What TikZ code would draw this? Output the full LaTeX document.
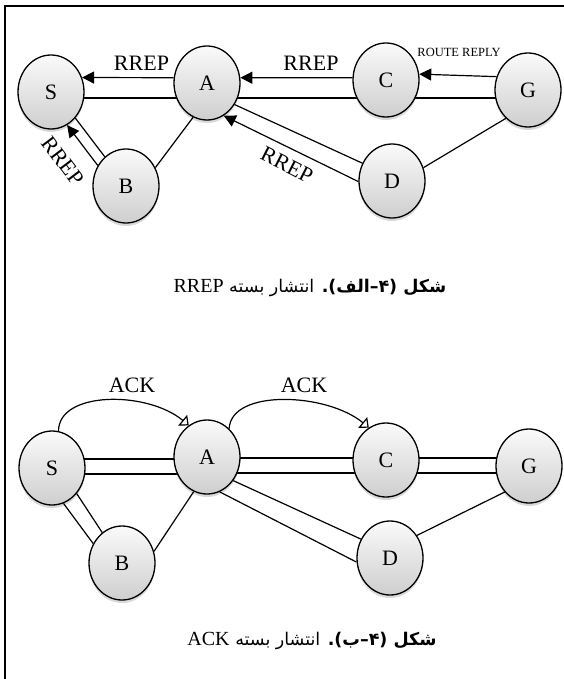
\documentclass[tikz,border=0pt]{standalone}
\usepackage{fontspec}
\setmainfont{Liberation Serif}
\newfontfamily\arabicfont[Script=Arabic]{DejaVu Sans}
\TeXXeTstate=1
\usetikzlibrary{shapes.geometric,arrows.meta,shadows,calc}
\pgfdeclarelayer{background}
\pgfsetlayers{background,main}
\begin{document}
\begin{tikzpicture}[x=1pt,y=1pt,
  nd/.style={ellipse,draw=black,line width=1.3pt,minimum width=66pt,minimum height=74pt,inner sep=0pt,
    top color=gray!4,bottom color=gray!38,
    drop shadow={shadow xshift=0pt,shadow yshift=-3pt,opacity=0.3,fill=gray},
    font=\fontsize{22}{24}\selectfont},
  ln/.style={line width=1.2pt},
  arr/.style={line width=1.2pt,-{Triangle[length=12pt,width=12pt]}},
  ack/.style={line width=1.2pt,-{Triangle[open,length=8pt,width=14pt,fill=white]}},
  lbl/.style={font=\fontsize{22}{24}\selectfont,inner sep=0pt},
  small/.style={font=\fontsize{12.5}{14}\selectfont,inner sep=0pt},
  captxt/.style={inner sep=0pt}
]
\useasboundingbox (0,0) rectangle (564,-679);
\draw[line width=1.3pt] (5,-679) -- (5,-6) -- (564,-6);

% ---------- top diagram ----------
\node[nd] (S) at (51,-92) {S};
\node[nd] (A) at (207,-83) {A};
\node[nd] (B) at (126,-186) {B};
\node[nd] (C) at (386,-80) {C};
\node[nd] (G) at (528,-90) {G};
\node[nd] (D) at (392,-181) {D};

\begin{pgfonlayer}{background}
\draw[ln] ($(S.center)+(0,-6)$) -- ($(A.center)+(0,-15)$);
\draw[ln] ($(A.center)+(0,-15)$) -- ($(C.center)+(0,-18)$);
\draw[ln] ($(C.center)+(0,-18)$) -- ($(G.center)+(0,-8)$);
\end{pgfonlayer}
\draw[ln] (A.-38) -- (D.149);
\draw[ln] (S.-47) -- (B.126);
\draw[ln] (A.-112) -- (B.32);
\draw[ln] (G.-128) -- (D.23);

\draw[arr] (A.171) -- (S.25);
\draw[arr] (C.176) -- (A.9);
\draw[arr] (G.157) -- (C.10);
\draw[arr] (D.181) -- (A.-63);
\draw[arr] (B.144) -- (S.-64);

\node[lbl] (l1) at (141.5,-63) {RREP};
\node[lbl] (l2) at (311,-63) {RREP};
\node[small] (l3) at (459,-52) {ROUTE REPLY};
\node[lbl,rotate=-27] (l4) at (287,-165) {RREP};
\node[lbl,rotate=-53] (l5) at (63,-161) {RREP};

\node[captxt] (cap1) at (310,-288) {\arabicfont\fontsize{17.5}{20}\selectfont\beginR\textbf{شکل (۴–الف).} انتشار بسته \beginL{\rmfamily\fontsize{20}{22}\selectfont RREP}\endL\endR};

% ---------- bottom diagram ----------
\node[nd] (S2) at (52,-468) {S};
\node[nd] (A2) at (207,-457) {A};
\node[nd] (B2) at (122,-563) {B};
\node[nd] (C2) at (386,-460) {C};
\node[nd] (G2) at (529,-466) {G};
\node[nd] (D2) at (390,-558) {D};

\begin{pgfonlayer}{background}
\draw[ln] ($(S2.center)+(0,9)$) -- ($(A2.center)+(0,-2)$);
\draw[ln] ($(S2.center)+(0,-6)$) -- ($(A2.center)+(0,-17)$);
\draw[ln] ($(A2.center)+(0,-1)$) -- ($(C2.center)+(0,2)$);
\draw[ln] ($(A2.center)+(0,-16)$) -- ($(C2.center)+(0,-13)$);
\draw[ln] ($(C2.center)+(0,2)$) -- ($(G2.center)+(0,8)$);
\draw[ln] ($(C2.center)+(0,-13)$) -- ($(G2.center)+(0,-7)$);
\end{pgfonlayer}
\draw[ln] (A2.-42) -- (D2.147.5);
\draw[ln] (A2.-70) -- (D2.-173);
\draw[ln] (S2.-46) -- (B2.123);
\draw[ln] (S2.-72) -- (B2.146);
\draw[ln] (A2.-111) -- (B2.20);
\draw[ln] (G2.-133) -- (D2.40);

\draw[ack] (S2.80) .. controls +(0,40) and +(-42,35) .. (A2.120);
\draw[ack] (A2.52) .. controls +(2,40) and +(-42,35) .. (C2.118);

\node[lbl] (k1) at (132,-385) {ACK};
\node[lbl] (k2) at (304,-385) {ACK};

\node[captxt] (cap2) at (312,-641) {\arabicfont\fontsize{17.5}{20}\selectfont\beginR\textbf{شکل (۴–ب).} انتشار بسته \beginL{\rmfamily\fontsize{20}{22}\selectfont ACK}\endL\endR};
\end{tikzpicture}
\end{document}
